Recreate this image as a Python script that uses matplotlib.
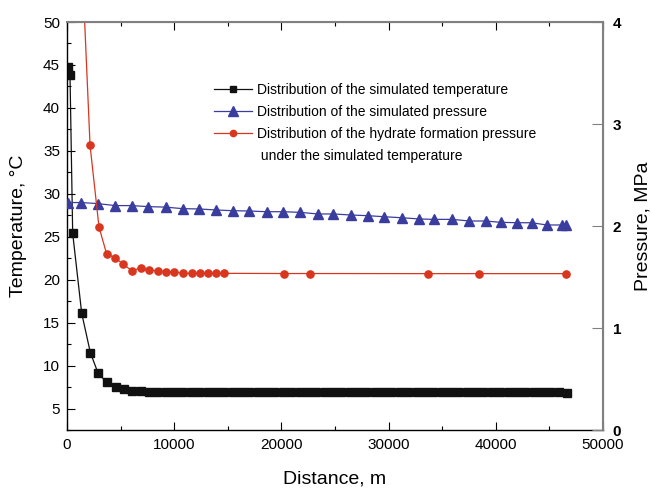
import matplotlib
matplotlib.use("Agg")
import matplotlib.pyplot as plt
from matplotlib.lines import Line2D
from matplotlib.ticker import MultipleLocator

plt.rcParams['font.family'] = ['Liberation Sans', 'DejaVu Sans']

# ---- data ----
temp_x = [120, 280, 530, 1370, 2180, 2890, 3700, 4540, 5320, 6100, 6870,
          7650, 8430, 9210, 9990, 10770, 11550, 12330, 13110, 13890, 14670,
          15450, 16230, 17010, 17790, 18570, 19350, 20130, 20910, 21690, 22470,
          23250, 24030, 24810, 25590, 26370, 27150, 27930, 28710, 29490, 30270,
          31050, 31830, 32610, 33390, 34170, 34950, 35730, 36510, 37290, 38070,
          38850, 39630, 40410, 41190, 41970, 42750, 43530, 44310, 45090, 45870,
          46650]
temp_y = [44.8, 43.85, 25.4, 16.1, 11.5, 9.15, 8.04, 7.46, 7.27, 7.08, 7.08,
          6.93, 6.93, 6.93, 6.93, 6.93, 6.93, 6.93, 6.93, 6.93, 6.93,
          6.92, 6.92, 6.92, 6.92, 6.92, 6.92, 6.92, 6.92, 6.92, 6.92,
          6.91, 6.91, 6.91, 6.91, 6.91, 6.91, 6.91, 6.91, 6.91, 6.91,
          6.90, 6.90, 6.90, 6.90, 6.90, 6.90, 6.90, 6.90, 6.90, 6.90,
          6.89, 6.89, 6.89, 6.89, 6.89, 6.89, 6.88, 6.88, 6.88, 6.88,
          6.85]

pres_x = [60, 1300, 2860, 4480, 6030, 7590, 9200, 10790, 12340, 13900,
          15450, 17000, 18620, 20180, 21730, 23390, 24840, 26460, 28100,
          29570, 31220, 32860, 34260, 35940, 37530, 39060, 40460, 42000,
          43350, 44750, 46150, 46550]
pres_y = [2.23, 2.23, 2.22, 2.20, 2.20, 2.19, 2.185, 2.17, 2.167, 2.157,
          2.15, 2.147, 2.14, 2.14, 2.134, 2.118, 2.118, 2.108, 2.101,
          2.091, 2.081, 2.069, 2.065, 2.065, 2.049, 2.049, 2.036, 2.032,
          2.032, 2.010, 2.010, 2.010]

hyd_x = [1150, 2150, 2985, 3700, 4480, 5250, 6060, 6870, 7680, 8460, 9230,
         10010, 10790, 11630, 12410, 13180, 13900, 14670, 20250, 22670,
         33700, 38430, 46550]
hyd_y = [5.2, 2.79, 1.99, 1.725, 1.69, 1.625, 1.56, 1.59, 1.57, 1.56, 1.55,
         1.55, 1.536, 1.536, 1.536, 1.536, 1.536, 1.536, 1.534, 1.534,
         1.533, 1.533, 1.533]

labels = ["Distribution of the simulated temperature",
          "Distribution of the simulated pressure",
          "Distribution of the hydrate formation pressure",
          " under the simulated temperature"]

BLACK = '#111111'
BLUE = '#3a3d9d'
RED = '#d9361f'
GREY = '#808080'

fig = plt.figure(figsize=(6.52, 4.88), dpi=100)
ax = fig.add_axes([67/652, 1-430/488, 536/652, 408/488])
ax2 = ax.twinx()

l1, = ax.plot(temp_x, temp_y, '-', color=BLACK, lw=0.9, marker='s', ms=5.2,
              mfc=BLACK, mec=BLACK, clip_on=True)
l2, = ax2.plot(pres_x, pres_y, '-', color=BLUE, lw=0.9, marker='^', ms=7.5,
               mfc=BLUE, mec=BLUE)
l3, = ax2.plot(hyd_x, hyd_y, '-', color=RED, lw=0.9, marker='o', ms=5.2,
               mfc=RED, mec=RED)

ax.set_xlim(0, 50000)
ax.set_ylim(2.5, 50)
ax2.set_ylim(0, 4)

ax.xaxis.set_major_locator(MultipleLocator(10000))
ax.xaxis.set_minor_locator(MultipleLocator(5000))
ax.yaxis.set_major_locator(MultipleLocator(5))
ax.yaxis.set_minor_locator(MultipleLocator(2.5))
ax2.yaxis.set_major_locator(MultipleLocator(1))

ax.tick_params(axis='both', which='major', direction='in', length=6, width=0.8,
               labelsize=11, pad=6, top=True)
ax.tick_params(axis='both', which='minor', direction='in', length=3, width=0.8,
               top=True)
ax.tick_params(axis='x', which='both', top=True, labeltop=False)
ax.tick_params(axis='y', which='major', pad=5)
ax2.tick_params(axis='y', which='major', direction='in', length=8, width=0.8,
                labelsize=11, pad=7, colors=GREY, labelcolor='black')
for t in ax2.get_yticklabels():
    t.set_fontweight('bold')

for side in ['left', 'bottom']:
    ax.spines[side].set_color('black')
    ax.spines[side].set_linewidth(1.0)
for side in ['top', 'right']:
    ax.spines[side].set_color(GREY)
    ax2.spines[side].set_color(GREY)
    ax2.spines[side].set_linewidth(1.5)
ax2.spines['left'].set_visible(False)
ax2.spines['bottom'].set_visible(False)

ax.set_xlabel("Distance, m", fontsize=14)
ax.set_ylabel("Temperature, °C", fontsize=14)
ax2.set_ylabel("Pressure, MPa", fontsize=14)
ax.xaxis.set_label_coords(0.5, -0.1)
ax.yaxis.set_label_coords(-0.074, 0.5)
ax2.yaxis.set_label_coords(1.058, 0.5)

dummy = Line2D([], [], linestyle='none', marker=None)
h1 = Line2D([], [], color=BLACK, lw=0.9, marker='s', ms=4.5)
h2 = Line2D([], [], color=BLUE, lw=0.9, marker='^', ms=6.5)
h3 = Line2D([], [], color=RED, lw=0.9, marker='o', ms=4.5)
leg = ax.legend([h1, h2, h3, dummy], labels, loc='upper left',
                bbox_to_anchor=(0.263, 0.865), frameon=False, fontsize=10,
                handlelength=2.8, handletextpad=0.3, labelspacing=0.58,
                borderaxespad=0)

fig.savefig("out.png", dpi=100)
